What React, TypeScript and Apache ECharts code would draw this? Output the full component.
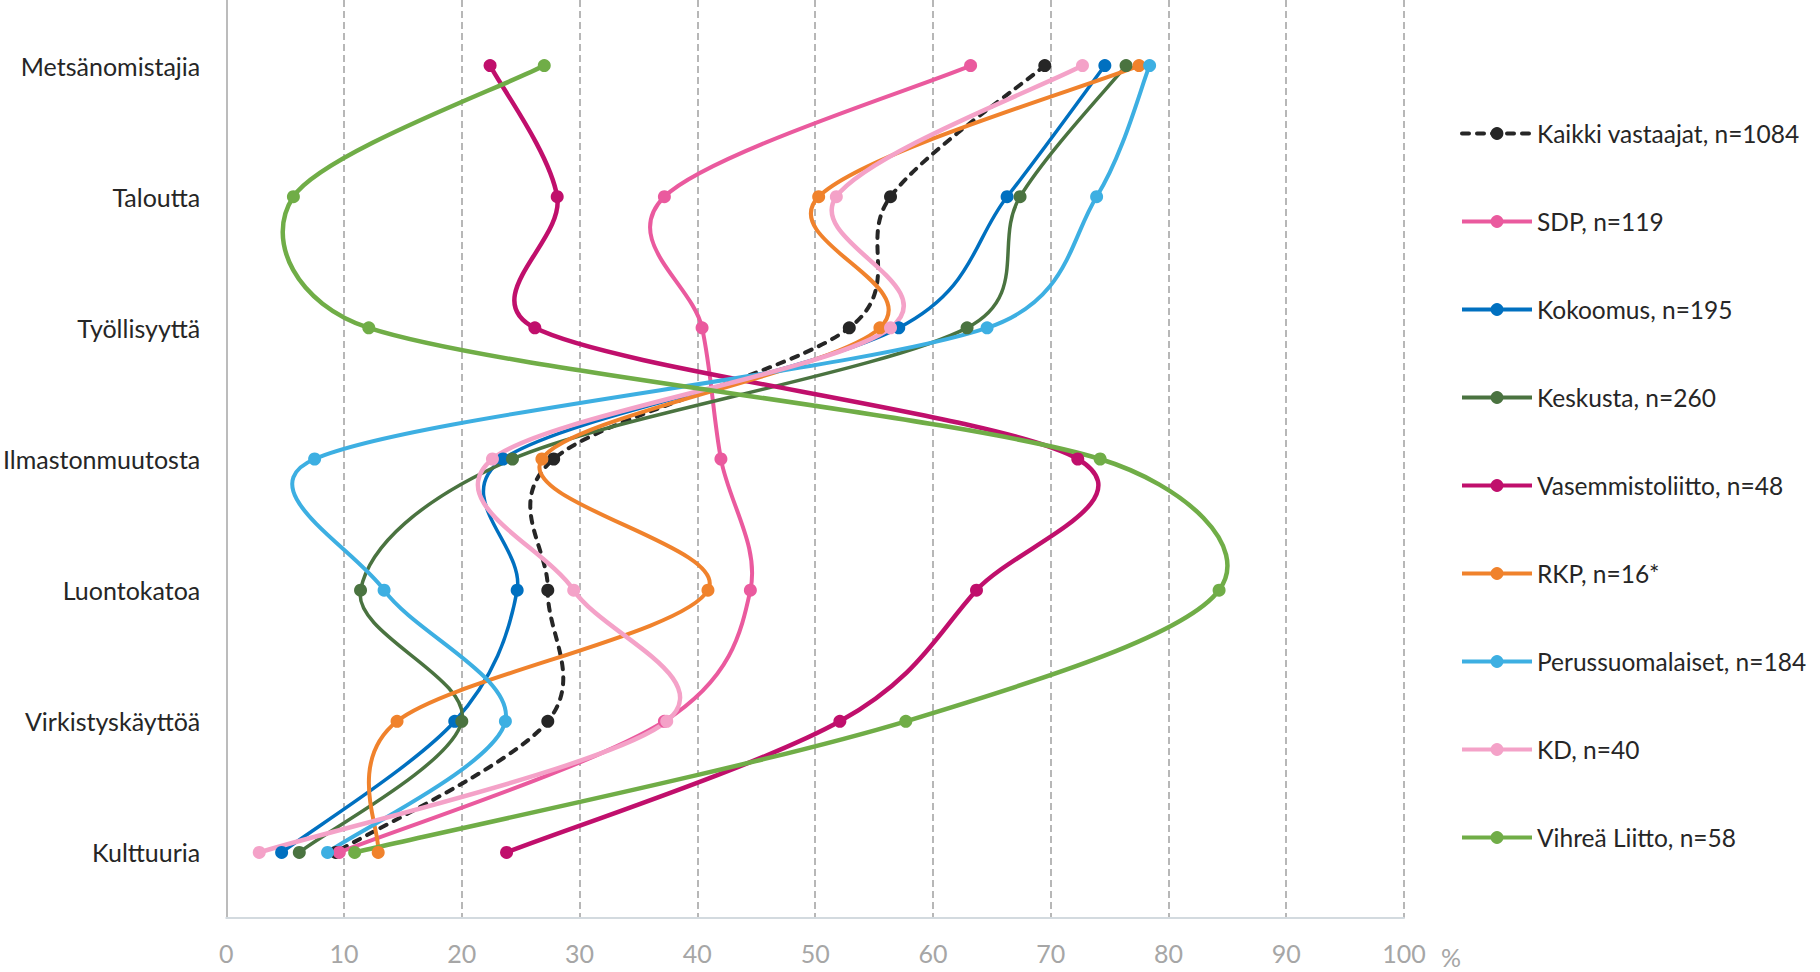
import React, { useEffect, useRef } from 'react';
import * as echarts from 'echarts';

const categories = ['Metsänomistajia', 'Taloutta', 'Työllisyyttä', 'Ilmastonmuutosta', 'Luontokatoa', 'Virkistyskäyttöä', 'Kulttuuria'];
const xTicks = [0, 10, 20, 30, 40, 50, 60, 70, 80, 90, 100];

const seriesNames = [
  'Kaikki vastaajat, n=1084',
  'SDP, n=119',
  'Kokoomus, n=195',
  'Keskusta, n=260',
  'Vasemmistoliitto, n=48',
  'RKP, n=16*',
  'Perussuomalaiset, n=184',
  'KD, n=40',
  'Vihreä Liitto, n=58',
];

const kaikki = [69.5, 56.4, 52.9, 27.8, 27.3, 27.3, 9.3];
const sdp = [63.2, 37.2, 40.4, 42.0, 44.5, 37.2, 9.6];
const kokoomus = [74.6, 66.3, 57.1, 23.5, 24.7, 19.4, 4.7];
const keskusta = [76.4, 67.4, 62.9, 24.3, 11.4, 20.0, 6.2];
const vasemmisto = [22.4, 28.1, 26.2, 72.3, 63.7, 52.1, 23.8];
const rkp = [77.5, 50.3, 55.5, 26.8, 40.9, 14.5, 12.9];
const perussuomalaiset = [78.4, 73.9, 64.6, 7.5, 13.4, 23.7, 8.6];
const kd = [72.7, 51.8, 56.4, 22.6, 29.5, 37.4, 2.8];
const vihrea = [27.0, 5.7, 12.1, 74.2, 84.3, 57.7, 10.9];

const seriesValues = [kaikki, sdp, kokoomus, keskusta, vasemmisto, rkp, perussuomalaiset, kd, vihrea];
const colors = ['#262626', '#EA5A9E', '#0070C0', '#4A7340', '#C00F6C', '#F0822C', '#3DAFE2', '#F4A2C8', '#70AD47'];
const widths = [4, 4, 3.5, 3.5, 4.5, 4, 4, 4.5, 4.5];
const FONT = 'Lato, "Open Sans", sans-serif';

// Excel-like smoothed line: cubic Bezier with 1/6 tension, limited to half segment length
function excelSmoothPath(pts: number[][]): string {
  const n = pts.length;
  const dist = (a: number[], b: number[]) => Math.hypot(b[0] - a[0], b[1] - a[1]);
  let d = `M${pts[0][0]},${pts[0][1]}`;
  for (let i = 0; i < n - 1; i++) {
    const p0 = pts[i - 1] || pts[i];
    const p1 = pts[i];
    const p2 = pts[i + 1];
    const p3 = pts[i + 2] || pts[i + 1];
    const d12 = dist(p1, p2);
    const d02 = dist(p0, p2);
    const d13 = dist(p1, p3);
    const f1 = d02 / 6 < d12 / 2 ? 1 / 6 : d02 > 0 ? d12 / 2 / d02 : 0;
    const f2 = d13 / 6 < d12 / 2 ? 1 / 6 : d13 > 0 ? d12 / 2 / d13 : 0;
    const c1x = p1[0] + f1 * (p2[0] - p0[0]);
    const c1y = p1[1] + f1 * (p2[1] - p0[1]);
    const c2x = p2[0] - f2 * (p3[0] - p1[0]);
    const c2y = p2[1] - f2 * (p3[1] - p1[1]);
    d += ` C${c1x},${c1y} ${c2x},${c2y} ${p2[0]},${p2[1]}`;
  }
  return d;
}

export default function App() {
  const ref = useRef<HTMLDivElement>(null);
  useEffect(() => {
    const chart = echarts.init(ref.current as HTMLDivElement, null, { renderer: 'svg' });
    const series: any[] = [];
    seriesValues.forEach((vals, k) => {
      const dash = k === 0 ? [7, 8] : null;
      const cap = k === 0 ? 'round' : 'butt';
      series.push({
        type: 'custom',
        name: `curve-${k}`,
        silent: true,
        clip: false,
        encode: { x: 0, y: 1 },
        data: vals.map((v, i) => [v, i]),
        renderItem: (params: any, api: any) => {
          if (params.dataIndex !== 0) return null;
          const pts = vals.map((v, i) => api.coord([v, i]));
          return {
            type: 'path',
            shape: { pathData: excelSmoothPath(pts) },
            style: {
              fill: 'none',
              stroke: colors[k],
              lineWidth: widths[k],
              lineDash: dash,
              lineCap: cap,
            },
          };
        },
      });
      series.push({
        type: 'line',
        name: seriesNames[k],
        silent: true,
        data: vals.map((v, i) => [v, i]),
        symbol: 'circle',
        symbolSize: 13,
        showSymbol: true,
        lineStyle: { color: colors[k], width: widths[k], type: dash || 'solid', cap, opacity: 0 },
        itemStyle: { color: colors[k] },
        emphasis: { disabled: true },
      });
    });

    chart.setOption({
      animation: false,
      backgroundColor: '#ffffff',
      grid: { left: 226, right: 416, top: 0, bottom: 54, containLabel: false },
      xAxis: {
        type: 'value',
        min: xTicks[0],
        max: xTicks[xTicks.length - 1],
        interval: 10,
        axisLine: { show: true, lineStyle: { color: '#D3DADF', width: 2 } },
        axisTick: { show: false },
        axisLabel: { color: '#A6A6A6', fontSize: 25, margin: 22, fontFamily: FONT },
        splitLine: { show: true, showMinLine: false, lineStyle: { color: '#A6A6A6', type: [7, 4], width: 1.6 } },
      },
      yAxis: {
        type: 'category',
        data: categories,
        inverse: true,
        axisLine: { show: true, lineStyle: { color: '#A6A6A6', width: 1.5 } },
        axisTick: { show: false },
        axisLabel: { color: '#262626', fontSize: 25, margin: 26, fontFamily: FONT },
        splitLine: { show: false },
      },
      legend: {
        orient: 'vertical',
        left: 1460,
        top: 120,
        padding: 0,
        itemWidth: 70,
        itemHeight: 16,
        itemGap: 61,
        selectedMode: false,
        data: seriesNames,
        lineStyle: { width: 4, opacity: 1 },
        textStyle: { fontFamily: FONT, fontSize: 24.5, color: '#262626', lineHeight: 27 },
      },
      graphic: [
        {
          type: 'text',
          left: 1441,
          top: 944,
          style: { text: '%', fill: '#A6A6A6', font: `25px ${FONT}` },
        },
      ],
      series,
    });
    return () => chart.dispose();
  }, []);
  return <div ref={ref} style={{ position: 'absolute', left: 0, top: 0, width: 1820, height: 972 }} />;
}
